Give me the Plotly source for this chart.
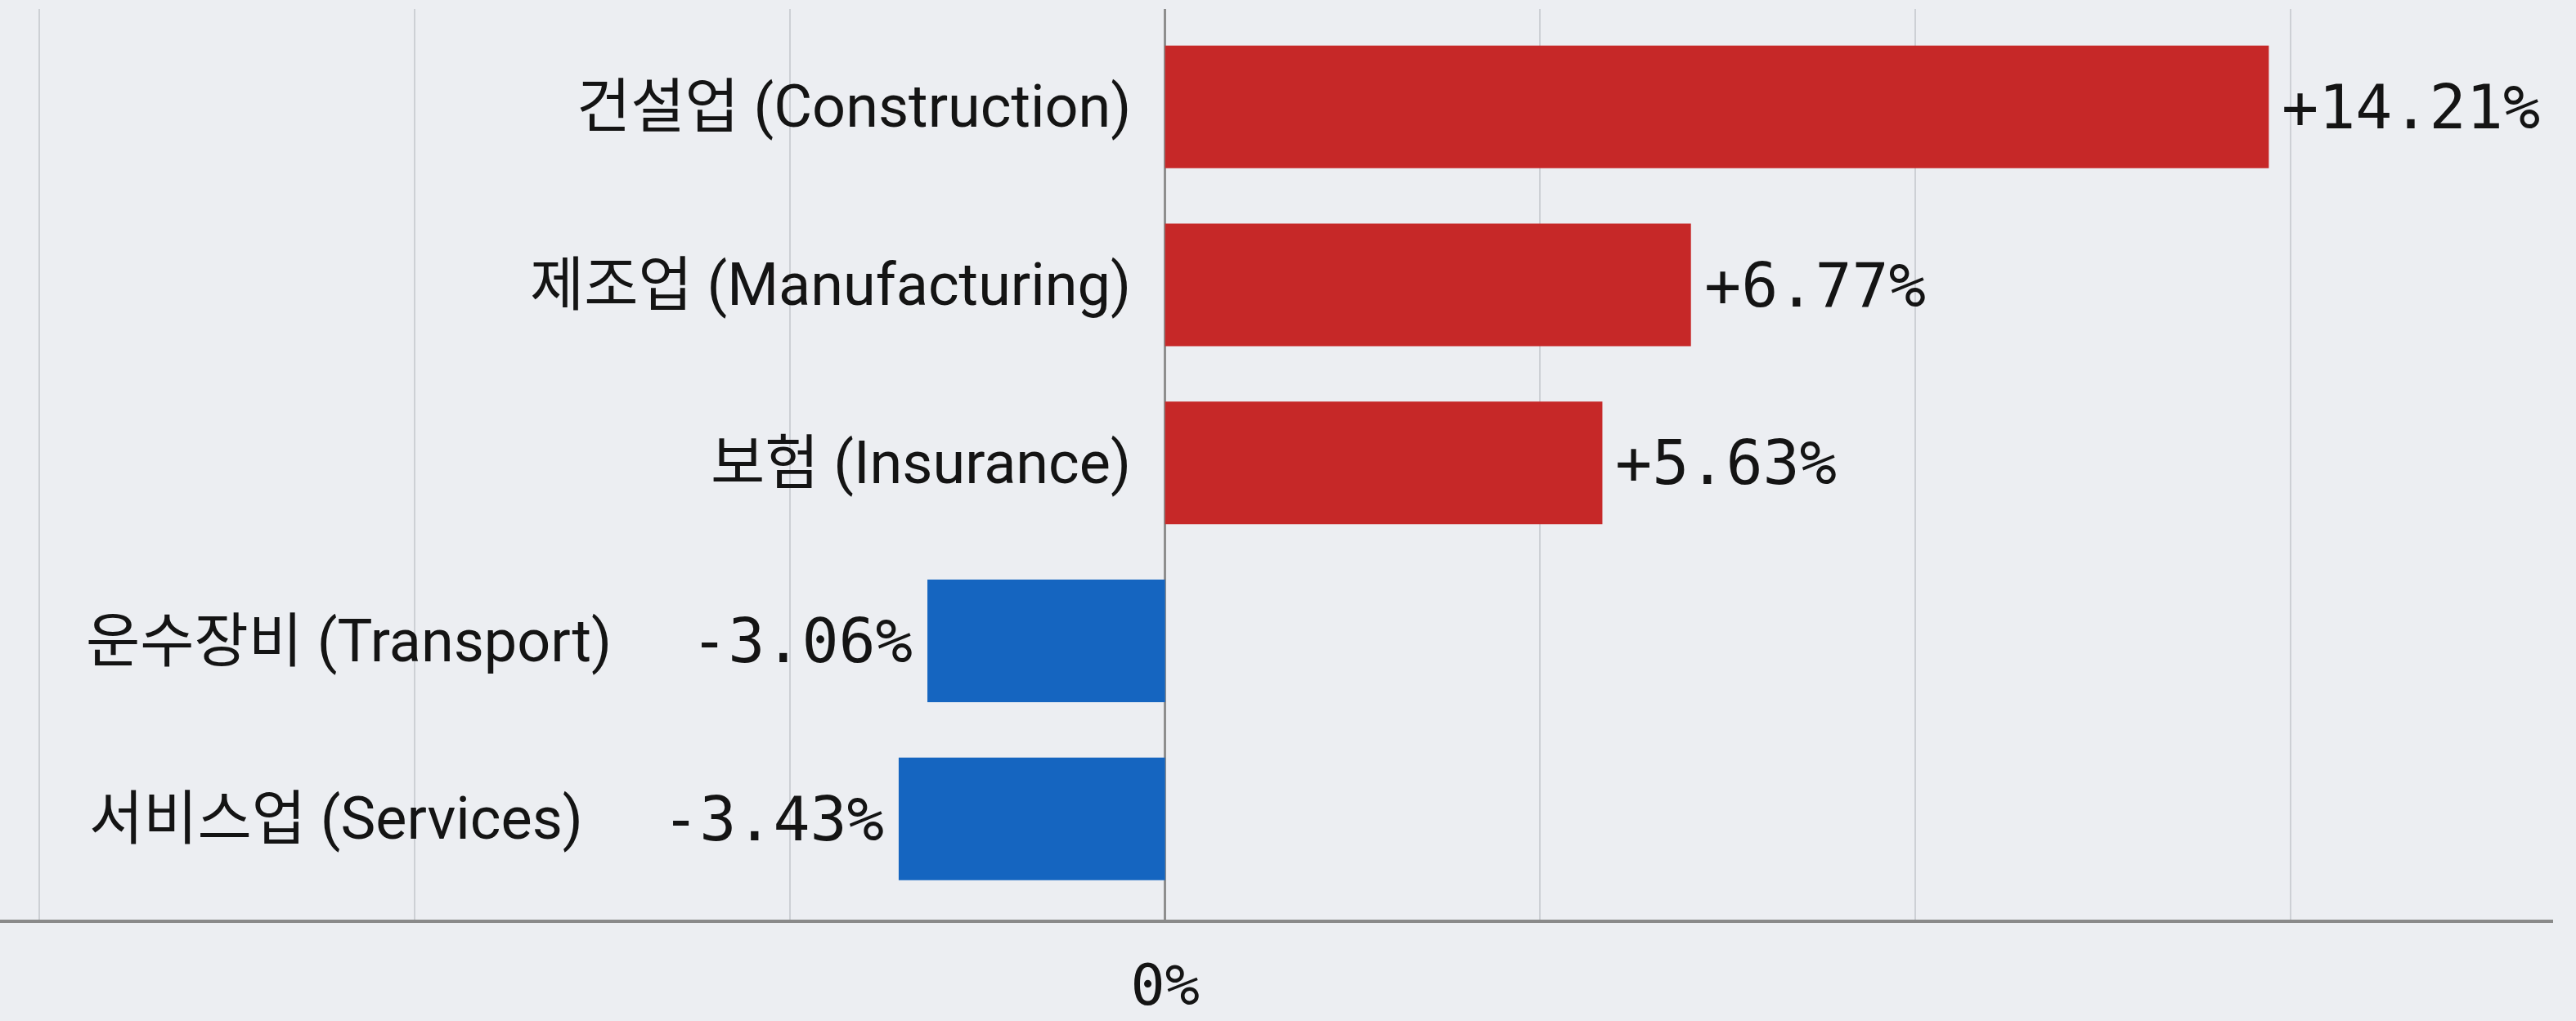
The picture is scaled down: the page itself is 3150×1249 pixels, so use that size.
import plotly.graph_objects as go

# ---- data ----
categories = [
    "건설업 (Construction)",
    "제조업 (Manufacturing)",
    "보험 (Insurance)",
    "운수장비 (Transport)",
    "서비스업 (Services)",
]
values = [14.21, 6.77, 5.63, -3.06, -3.43]
value_labels = ["+14.21%", "+6.77%", "+5.63%", "-3.06%", "-3.43%"]
grid_step = 4.83
grid_ticks = [k * grid_step for k in range(-3, 4)]
grid_text = ["0%" if abs(t) < 1e-9 else "" for t in grid_ticks]

RED = "#C62828"
BLUE = "#1565C0"
BG = "#ECEEF2"
TXT = "#141414"
LABEL_FONT = "Roboto, 'Noto Sans CJK KR', sans-serif"
MONO_FONT = "DejaVu Sans Mono"

colors = [RED if v >= 0 else BLUE for v in values]

fig = go.Figure()
fig.add_trace(go.Bar(
    x=values,
    y=categories,
    orientation="h",
    marker=dict(color=colors, line=dict(width=0)),
    hoverinfo="skip",
    showlegend=False,
))

annotations = []
for cat, v, lab in zip(categories, values, value_labels):
    if v >= 0:
        annotations.append(dict(
            x=v, y=cat, xref="x", yref="y", text=lab, showarrow=False,
            xanchor="left", yanchor="middle", xshift=14,
            font=dict(family=MONO_FONT, size=75, color=TXT),
        ))
        annotations.append(dict(
            x=0, y=cat, xref="x", yref="y", text=cat, showarrow=False,
            xanchor="right", yanchor="middle", xshift=-40,
            font=dict(family=LABEL_FONT, size=72, color=TXT),
        ))
    else:
        annotations.append(dict(
            x=v, y=cat, xref="x", yref="y", text=lab, showarrow=False,
            xanchor="right", yanchor="middle", xshift=-16,
            font=dict(family=MONO_FONT, size=75, color=TXT),
        ))
        annotations.append(dict(
            x=v, y=cat, xref="x", yref="y", text=cat, showarrow=False,
            xanchor="right", yanchor="middle", xshift=-384,
            font=dict(family=LABEL_FONT, size=72, color=TXT),
        ))

fig.update_layout(
    width=3150,
    height=1249,
    paper_bgcolor=BG,
    plot_bgcolor=BG,
    margin=dict(l=0, r=28, t=11, b=124),
    bargap=0.311,
    annotations=annotations,
    xaxis=dict(
        range=[-15, 17.87],
        tickmode="array",
        tickvals=grid_ticks,
        ticktext=grid_text,
        showgrid=True,
        gridcolor="#CDD0D5",
        gridwidth=2,
        zeroline=True,
        zerolinecolor="#8E8E8E",
        zerolinewidth=3,
        showline=True,
        linecolor="#8A8A8A",
        linewidth=4,
        ticks="",
        ticklabelstandoff=16,
        tickfont=dict(family=MONO_FONT, size=70, color=TXT),
        fixedrange=True,
        automargin=False,
    ),
    yaxis=dict(
        type="category",
        categoryorder="array",
        categoryarray=categories,
        range=[4.566, -0.55],
        showgrid=False,
        zeroline=False,
        showline=False,
        showticklabels=False,
        ticks="",
        fixedrange=True,
        automargin=False,
    ),
)

fig.write_html(
    "out.html",
    config={"displayModeBar": False},
    post_script="document.body.style.margin='0';document.body.style.overflow='hidden';",
)
